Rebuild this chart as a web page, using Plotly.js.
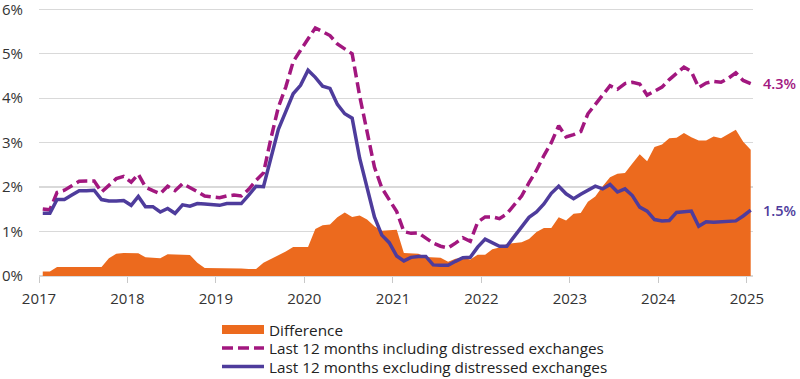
<!DOCTYPE html>
<html>
<head>
<meta charset="utf-8">
<script src="https://cdn.plot.ly/plotly-3.0.1.min.js"></script>
<style>
html,body{margin:0;padding:0;background:#fff;}
#chart{width:800px;height:379px;}
</style>
</head>
<body>
<div id="chart"></div>
<script>
// Monthly observations, Jan 2017 .. Jan 2025
const startYear = 2017;
const monthCount = 97;
const months = [];
for (let i = 0; i < monthCount; i++) {
  const y = startYear + Math.floor(i / 12);
  const m = (i % 12) + 1;
  months.push(y + '-' + (m < 10 ? '0' + m : m));
}

// Last 12 months including distressed exchanges (%)
const inclDistressed = [
  1.51,1.49,1.88,1.93,2.03,2.13,2.14,2.14,1.89,2.05,2.19,2.24,
  2.11,2.29,2.00,1.92,1.85,2.02,1.92,2.08,2.00,1.90,1.80,1.78,
  1.76,1.80,1.82,1.80,1.95,2.15,2.32,3.10,3.80,4.25,4.82,5.08,
  5.33,5.58,5.50,5.41,5.22,5.12,5.00,4.05,3.28,2.45,1.98,1.72,
  1.45,1.00,0.96,0.97,0.86,0.74,0.67,0.63,0.74,0.86,0.78,1.21,
  1.33,1.33,1.29,1.40,1.60,1.80,2.10,2.38,2.71,3.00,3.38,3.13,
  3.18,3.25,3.65,3.85,4.05,4.28,4.20,4.33,4.36,4.32,4.07,4.17,
  4.25,4.42,4.56,4.70,4.60,4.24,4.34,4.38,4.36,4.45,4.57,4.40,
  4.33
];

// Last 12 months excluding distressed exchanges (%)
const exclDistressed = [
  1.41,1.41,1.72,1.72,1.82,1.92,1.92,1.93,1.72,1.69,1.69,1.70,
  1.59,1.79,1.56,1.56,1.44,1.52,1.41,1.60,1.57,1.63,1.62,1.60,
  1.59,1.63,1.63,1.63,1.82,2.02,2.01,2.70,3.30,3.70,4.10,4.29,
  4.63,4.47,4.27,4.22,3.86,3.65,3.55,2.65,2.00,1.33,0.92,0.75,
  0.45,0.34,0.42,0.44,0.44,0.25,0.24,0.24,0.33,0.41,0.42,0.65,
  0.83,0.76,0.67,0.67,0.88,1.08,1.32,1.44,1.62,1.86,2.02,1.85,
  1.74,1.84,1.93,2.02,1.96,2.06,1.89,1.96,1.81,1.55,1.46,1.27,
  1.24,1.25,1.43,1.45,1.46,1.12,1.22,1.21,1.22,1.22,1.24,1.35,
  1.48
];

// Difference (%)
const difference = [
  0.10,0.10,0.20,0.20,0.20,0.20,0.20,0.20,0.20,0.40,0.50,0.52,
  0.51,0.51,0.42,0.41,0.40,0.49,0.49,0.48,0.47,0.30,0.18,0.18,
  0.18,0.18,0.18,0.17,0.16,0.16,0.30,0.38,0.46,0.55,0.65,0.65,
  0.65,1.06,1.14,1.16,1.32,1.43,1.33,1.36,1.27,1.12,1.02,1.03,
  1.04,0.52,0.51,0.50,0.43,0.42,0.41,0.32,0.39,0.41,0.37,0.48,
  0.48,0.60,0.64,0.72,0.74,0.76,0.83,0.99,1.08,1.08,1.32,1.25,
  1.40,1.42,1.67,1.79,2.02,2.22,2.30,2.32,2.53,2.74,2.58,2.90,
  2.96,3.10,3.11,3.22,3.12,3.05,3.05,3.14,3.10,3.20,3.29,3.02,
  2.84
];

const seriesNames = [
  'Difference',
  'Last 12 months including distressed exchanges',
  'Last 12 months excluding distressed exchanges'
];
const yTicks = [0,1,2,3,4,5,6];
const xTickYears = ['2017','2018','2019','2020','2021','2022','2023','2024','2025'];

const ORANGE = '#EC6A1E';
const MAGENTA = '#A2177F';
const PURPLE = '#4E3C9C';
const FONT = 'Open Sans, Noto Sans, sans-serif';

const traces = [
  {
    x: months, y: difference, name: seriesNames[0], type: 'scatter', mode: 'lines',
    fill: 'tozeroy', fillcolor: ORANGE, line: {color: ORANGE, width: 0},
    xperiod: 'M1', xperiodalignment: 'middle'
  },
  {
    x: months, y: inclDistressed, name: seriesNames[1], type: 'scatter', mode: 'lines',
    line: {color: MAGENTA, width: 3.5, dash: '11px,5px'},
    xperiod: 'M1', xperiodalignment: 'middle'
  },
  {
    x: months, y: exclDistressed, name: seriesNames[2], type: 'scatter', mode: 'lines',
    line: {color: PURPLE, width: 3.5},
    xperiod: 'M1', xperiodalignment: 'middle'
  }
];

const last = monthCount - 1;
const layout = {
  width: 800, height: 379,
  margin: {l: 39, r: 47, t: 8, b: 103, autoexpand: false},
  paper_bgcolor: '#fff', plot_bgcolor: '#fff',
  font: {family: FONT, size: 15, color: '#333'},
  showlegend: true,
  legend: {
    x: 0.2465, y: -0.131, xanchor: 'left', yanchor: 'top',
    orientation: 'v', traceorder: 'normal',
    font: {family: FONT, size: 15.3, color: '#222'},
    itemwidth: 44, tracegroupgap: 0, bgcolor: 'rgba(0,0,0,0)'
  },
  xaxis: {
    type: 'date',
    range: ['2017-01-01', '2025-01-26'],
    tickvals: xTickYears.map(y => y + '-01-01'),
    ticktext: xTickYears,
    ticks: 'outside', ticklen: 6, tickcolor: '#c8c8c8', tickwidth: 1,
    ticklabelstandoff: 3,
    showgrid: false, showline: false, zeroline: false,
    tickfont: {family: FONT, size: 15, color: '#333'}
  },
  yaxis: {
    range: [0, 6.03],
    tickvals: yTicks,
    ticktext: yTicks.map(v => v + '%'),
    showgrid: true, gridcolor: '#d9d9d9', gridwidth: 1.3,
    zeroline: true, zerolinecolor: '#d9d9d9', zerolinewidth: 1.3,
    showline: false, ticks: '', ticklabelstandoff: 15,
    ticklabeloverflow: 'allow',
    tickfont: {family: FONT, size: 15, color: '#333'}
  },
  annotations: [
    {x: months[last], y: inclDistressed[last], xref: 'x', yref: 'y',
     text: inclDistressed[last].toFixed(1) + '%', showarrow: false,
     xanchor: 'left', yanchor: 'middle', xshift: 14,
     font: {family: FONT, size: 14.5, color: MAGENTA, weight: 600}},
    {x: months[last], y: exclDistressed[last], xref: 'x', yref: 'y',
     text: exclDistressed[last].toFixed(1) + '%', showarrow: false,
     xanchor: 'left', yanchor: 'middle', xshift: 14,
     font: {family: FONT, size: 14.5, color: PURPLE, weight: 600}}
  ]
};

Plotly.newPlot('chart', traces, layout, {staticPlot: true, displayModeBar: false}).then(gd => {
  // lengthen legend symbols to match the reference key
  gd.querySelectorAll('.legend .legendfill path').forEach(p => p.setAttribute('d', 'M7,-4.5h42v9h-42z'));
  gd.querySelectorAll('.legend .legendlines path').forEach(p => p.setAttribute('d', 'M7,0h42'));
  // tighter row spacing, like the reference key
  let y0 = null;
  gd.querySelectorAll('.legend .traces').forEach((g, i) => {
    const m = /translate\(\s*([-\d.]+)[ ,]+([-\d.]+)\s*\)/.exec(g.getAttribute('transform') || '');
    if (!m) return;
    if (y0 === null) y0 = parseFloat(m[2]);
    g.setAttribute('transform', 'translate(' + m[1] + ',' + (y0 + 2 + i * 18.5) + ')');
  });
});
</script>
</body>
</html>
